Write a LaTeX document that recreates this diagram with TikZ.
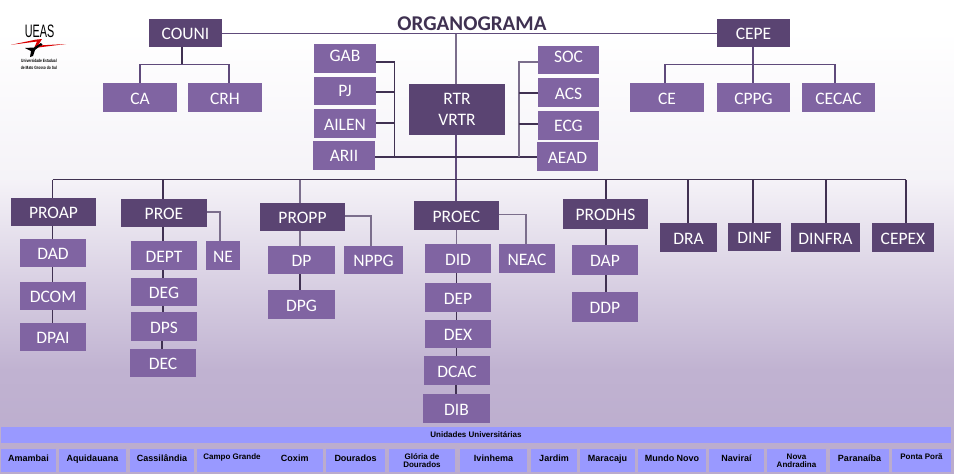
\documentclass[tikz,border=0pt]{standalone}
\usepackage{fontspec}
\setmainfont{Carlito}
\newfontfamily\unifont{Liberation Sans}[BoldFont={Liberation Sans Bold}]
\usetikzlibrary{calc}
\definecolor{boxdark}{HTML}{5A4472}
\definecolor{boxlight}{HTML}{8064A2}
\definecolor{linkdark}{HTML}{403152}
\definecolor{linkgray}{HTML}{7B6E8C}
\definecolor{linkmid}{HTML}{5F4A7B}
\definecolor{titlecol}{HTML}{3F3151}
\definecolor{unifill}{HTML}{9999FF}
\tikzset{
  orgdark/.style={fill=boxdark,text=white},
  orglight/.style={fill=boxlight,text=white},
  multiline/.style={text height=,text depth=,align=center},
  unicell/.style={fill=unifill,text=black,font=\unifont\bfseries\fontsize{9}{9}\selectfont,text height=1.4pt,text depth=0pt},
  unismall/.style={fill=unifill,text=black,font=\unifont\bfseries\fontsize{8}{7.8}\selectfont,text height=0pt,text depth=1.3pt},
  link/.style={draw=linkdark,line width=1.6pt},
  thinlink/.style={draw=linkdark,line width=1.2pt},
  graylink/.style={draw=linkgray,line width=1.6pt},
  midlink/.style={draw=linkmid,line width=1.6pt},
}
\newcommand{\bx}[7][]{%
  \pgfmathsetmacro{\bw}{#5-#3}\pgfmathsetmacro{\bh}{#6-#4}%
  \node[anchor=north west,inner sep=0pt,outer sep=0pt,minimum width=\bw pt,minimum height=\bh pt,
        font=\fontsize{17.5}{19}\selectfont,text height=13.3pt,text depth=0pt,#1] (#2) at (#3,#4) {#7};}
\begin{document}
\begin{tikzpicture}[x=1pt,y=-1pt]
\useasboundingbox (0,0) rectangle (954,474);
% background
\fill[white] (0,0) rectangle (954,30);
\shade[top color=white,bottom color=white!90!boxlight!80!white] (0,30) rectangle (954,180);
\shade[top color=white!90!boxlight!80!white,bottom color=white!48!boxlight!95!white] (0,179.5) rectangle (954,370);
\shade[top color=white!48!boxlight!95!white,bottom color=white!40!boxlight!90!white] (0,369.5) rectangle (954,474);
% logo
\node[inner sep=0pt,font=\unifont\fontsize{18}{18}\selectfont,xscale=0.6] (logoname) at (39.5,31.5) {UEAS};
\fill[red!85!black] (11,44.8) -- (36,39.6) -- (42,39) -- (38,45.5) -- (66,44) -- (38,47.5) -- (34.5,47) -- (37,41.5) -- cycle;
\fill[black] (25,48) -- (34,47.5) -- (41,43) -- (40,46) -- (35,50) -- (33,56) -- (30,57) -- (31,51) -- cycle;
\fill[black] (41,44.5) circle (1.5);
\node[inner sep=0pt,align=center,font=\unifont\bfseries\fontsize{4.6}{6.6}\selectfont,xscale=0.72] (logotext) at (39,64.5) {Universidade Estadual\\de Mato Grosso do Sul};
% title
\node[inner sep=0pt,font=\bfseries\fontsize{21}{22}\selectfont,text=titlecol] (title) at (472,24) {ORGANOGRAMA};
% boxes
\bx[orgdark]{COUNI}{149}{19}{222}{47}{COUNI}
\bx[orglight]{CA}{103}{83}{177}{112}{CA}
\bx[orglight]{CRH}{188}{83}{262}{112}{CRH}
\bx[orgdark]{CEPE}{717}{19}{790}{47}{CEPE}
\bx[orglight]{CE}{630}{83}{704}{112}{CE}
\bx[orglight]{CPPG}{717}{83}{790}{112}{CPPG}
\bx[orglight]{CECAC}{802}{83}{875}{112}{CECAC}
\bx[orglight,text height=5.5pt]{GAB}{314}{44}{376}{73}{GAB}
\bx[orglight,text height=11.3pt]{PJ}{314}{77}{376}{105}{PJ}
\bx[orglight]{AILEN}{314}{109}{376}{138}{AILEN}
\bx[orglight,text height=11.3pt]{ARII}{313}{141}{375}{170}{ARII}
\bx[orgdark,multiline,font=\fontsize{17.5}{21.5}\selectfont]{RTR}{409}{84}{505}{135}{RTR\\VRTR}
\bx[orglight,text height=5.5pt]{SOC}{538}{46}{599}{74}{SOC}
\bx[orglight]{ACS}{538}{78}{599}{107}{ACS}
\bx[orglight,text height=11.3pt]{ECG}{538}{111}{599}{140}{ECG}
\bx[orglight]{AEAD}{537}{142}{598}{171}{AEAD}
\bx[orgdark]{PROAP}{11}{198}{96}{226}{PROAP}
\bx[orglight]{DAD}{20}{239}{86}{267}{DAD}
\bx[orglight]{DCOM}{20}{282}{86}{310}{DCOM}
\bx[orglight]{DPAI}{20}{323}{86}{351}{DPAI}
\bx[orgdark]{PROE}{121}{199}{207}{227}{PROE}
\bx[orglight]{DEPT}{131}{241}{197}{270}{DEPT}
\bx[orglight]{DEG}{131}{278}{197}{306}{DEG}
\bx[orglight]{DPS}{131}{312}{197}{341}{DPS}
\bx[orglight]{DEC}{130}{349}{196}{377}{DEC}
\bx[orglight]{NE}{206}{241}{240}{270}{NE}
\bx[orgdark]{PROPP}{260}{203}{345}{231}{PROPP}
\bx[orglight]{DP}{268}{246}{335}{274}{DP}
\bx[orglight]{DPG}{268}{290}{335}{319}{DPG}
\bx[orglight]{NPPG}{344}{246}{403}{274}{NPPG}
\bx[orgdark]{PROEC}{414}{201}{499}{230}{PROEC}
\bx[orglight]{DID}{425}{244}{491}{273}{DID}
\bx[orglight]{NEAC}{499}{244}{555}{273}{NEAC}
\bx[orglight]{DEP}{425}{283}{491}{312}{DEP}
\bx[orglight]{DEX}{425}{320}{491}{348}{DEX}
\bx[orglight]{DCAC}{424}{356}{490}{385}{DCAC}
\bx[orglight]{DIB}{423}{394}{490}{423}{DIB}
\bx[orgdark]{PRODHS}{563}{199}{648}{229}{PRODHS}
\bx[orglight]{DAP}{572}{245}{638}{275}{DAP}
\bx[orglight]{DDP}{572}{292}{638}{322}{DDP}
\bx[orgdark]{DRA}{660}{223}{717}{252}{DRA}
\bx[orgdark]{DINF}{728}{223}{781}{251}{DINF}
\bx[orgdark]{DINFRA}{791}{223}{860}{252}{DINFRA}
\bx[orgdark]{CEPEX}{872}{223}{934}{252}{CEPEX}
% university band
\bx[fill=unifill,text=black,font=\unifont\bfseries\fontsize{8}{8}\selectfont,text height=5.7pt]{UNI}{1}{427}{951}{443}{Unidades Universitárias}
\bx[unicell]{Amambai}{1}{449}{56}{472}{Amambai}
\bx[unicell]{Aquidauana}{59}{449}{126}{472}{Aquidauana}
\bx[unicell]{Cassilandia}{130}{449}{194}{472}{Cassilândia}
\bx[unismall]{CampoGrande}{197}{449}{267}{472}{Campo Grande}
\bx[unicell]{Coxim}{266.5}{449}{323}{472}{Coxim}
\bx[unicell]{Dourados}{326}{449}{385}{472}{Dourados}
\bx[unismall,multiline]{Gloria}{389}{449}{455}{472}{Glória de\\Dourados}
\bx[unicell]{Ivinhema}{460}{449}{527}{472}{Ivinhema}
\bx[unicell]{Jardim}{531}{449}{577}{472}{Jardim}
\bx[unicell]{Maracaju}{580}{449}{635}{472}{Maracaju}
\bx[unicell]{MundoNovo}{638}{449}{706}{472}{Mundo Novo}
\bx[unicell]{Navirai}{709}{449}{764}{472}{Naviraí}
\bx[unismall,multiline]{NovaAndradina}{767}{449}{826}{472}{Nova\\Andradina}
\bx[unicell]{Paranaiba}{830}{449}{889}{472}{Paranaíba}
\bx[unismall]{PontaPora}{892}{449}{951}{472}{Ponta Porã}
% named junctions
\coordinate (topbus) at (456,33.5);
\coordinate (couniBus) at (182,64.5);
\coordinate (cepeBus) at (753,64.5);
\coordinate (leftBus) at (394.5,157);
\coordinate (rightBus) at (519,157);
\coordinate (mainBus) at (456,179.5);
% top line
\draw[midlink,line width=1.3pt] (COUNI.east |- topbus) -- (CEPE.west |- topbus);
\draw[graylink] (topbus) -- (topbus |- RTR.north);
\draw[midlink] (topbus |- RTR.south) -- (topbus |- PROEC.north);
% COUNI
\draw[link] (couniBus |- COUNI.south) -- (couniBus);
\draw[midlink] (140,83) |- (couniBus) -| (229,83);
% CEPE
\draw[midlink] (cepeBus |- CEPE.south) -- (cepeBus |- CPPG.north);
\draw[midlink] (665,83) |- (cepeBus) -| (835,83);
% staff brackets
\draw[link] (GAB.east |- 0,62) -| (leftBus);
\draw[thinlink] (PJ.east |- 0,92) -- (leftBus |- 0,92);
\draw[thinlink] (AILEN.east |- 0,123) -- (leftBus |- 0,123);
\draw[link] (ARII.east |- leftBus) -- (AEAD.west |- leftBus);
\draw[graylink] (SOC.west |- 0,62) -| (rightBus);
\draw[link] (ACS.west |- 0,93) -- (rightBus |- 0,93);
\draw[thinlink] (ECG.west |- 0,124) -- (rightBus |- 0,124);
% main bus
\draw[link] (52.5,179.5) -- (906,179.5);
\draw[link] (52.5,179.5) -- (52.5,198);
\draw[link] (163,179.5) -- (163,199);
\draw[graylink] (300,179.5) -- (300,203);
\draw[link] (606,179.5) -- (606,199);
\draw[link] (688,179.5) -- (688,223);
\draw[link] (753,179.5) -- (753,223);
\draw[link] (826,179.5) -- (826,223);
\draw[link] (906,179.5) -- (906,223);
% PROAP
\draw[thinlink] (52.5,226) -- (52.5,239) (52.5,267) -- (52.5,282) (52.5,310) -- (52.5,323);
% PROE
\draw[thinlink] (163,227) -- (163,241) (163,270) -- (163,278) (163,306) -- (163,312) (162,341) -- (162,349);
\draw[graylink] (PROE.east |- 0,212) -| (220,241);
% PROPP
\draw[graylink] (300,231) -- (300,246);
\draw[thinlink] (300,274) -- (300,290);
\draw[graylink] (PROPP.east |- 0,216) -| (371,246);
% PROEC
\draw[graylink] (456.5,230) -- (456.5,244);
\draw[thinlink] (456.5,273) -- (456.5,283) (456.5,312) -- (456.5,320) (456.5,348) -- (456.5,356) (456,385) -- (456,394);
\draw[graylink] (PROEC.east |- 0,214.5) -| (526,244);
% PRODHS
\draw[link] (606,229) -- (606,245) (606,275) -- (606,292);
\end{tikzpicture}
\end{document}
